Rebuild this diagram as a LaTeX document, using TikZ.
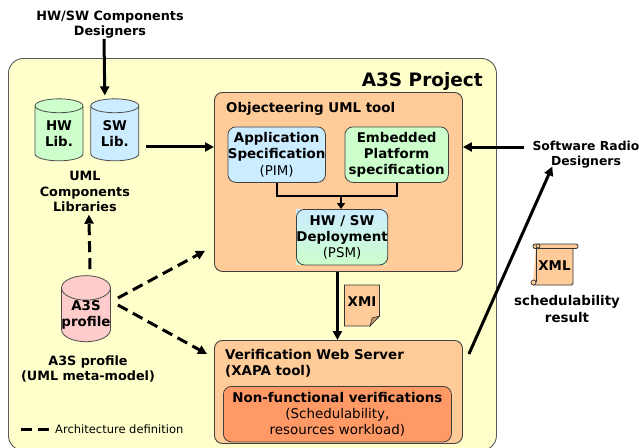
\documentclass[tikz,border=0pt]{standalone}
\usepackage{fontspec}
\setmainfont{DejaVu Sans}
\usetikzlibrary{positioning,arrows.meta,shapes.geometric}
\definecolor{prjyellow}{HTML}{FFFFCC}
\definecolor{tanbox}{HTML}{FFCC99}
\definecolor{bluebox}{HTML}{CCECFF}
\definecolor{greenbox}{HTML}{CCFFCC}
\definecolor{pinkbox}{HTML}{FFCCCC}
\definecolor{orangebox}{HTML}{FF9966}
\definecolor{foldbox}{HTML}{CC9966}
\tikzstyle{btext}=[font=\fontsize{13.4}{16.2}\selectfont\bfseries, align=center, inner sep=0pt]
\tikzstyle{otext}=[btext, font=\fontsize{12.8}{15.2}\selectfont\bfseries]
\tikzstyle{rtext}=[font=\fontsize{11.5}{15}\selectfont, align=left, inner sep=0pt]
\tikzstyle{prjbox}=[rectangle, rounded corners=15pt, draw=black!65, fill=prjyellow, line width=0.9pt]
\tikzstyle{toolbox}=[rectangle, rounded corners=8pt, draw=black!75, fill=tanbox, line width=0.9pt, minimum width=248pt, inner sep=0pt]
\tikzstyle{subbox}=[btext, rectangle, rounded corners=8pt, draw=black!75, line width=0.8pt, minimum height=55.5pt]
\tikzstyle{libcyl}=[btext, cylinder, shape border rotate=90, aspect=0.5, draw=black!70, line width=0.8pt, minimum width=48pt, minimum height=62pt]
\tikzstyle{pline}=[line width=2.2pt]
\tikzstyle{parrow}=[line width=3pt, -{Triangle[length=9pt,width=9pt]}]
\tikzstyle{darrow}=[line width=3pt, dash pattern=on 11pt off 6pt, -{Triangle[length=9pt,width=9pt]}]
\begin{document}
\begin{tikzpicture}[x=1pt,y=-1pt,node distance=0mm]
\useasboundingbox (0,0) rectangle (639,447);

\node (PRJ) [prjbox, minimum width=488pt, minimum height=392pt, anchor=north west] at (8,58) {};
\node (PRJTITLE) [btext, font=\fontsize{18.5}{20}\selectfont\bfseries, anchor=east] at (483,81) {A3S Project};

\node (COMPDES) [otext] at (110,25) {HW/SW Components\\Designers};
\node (HWLIB) [libcyl, fill=greenbox] at (59,133.5) {HW\\Lib.};
\node (SWLIB) [libcyl, fill=bluebox, right=7pt of HWLIB] {SW\\Lib.};
\node (LIBTXT) [otext, below=15pt of HWLIB.south east, xshift=3pt] {UML\\Components\\Libraries};
\node (PROFILE) [libcyl, fill=pinkbox] at (86,315) {A3S\\profile};
\node (PROFTXT) [otext] at (88,369) {A3S profile\\(UML meta-model)};

\node (OBJTOOL) [toolbox, minimum height=179pt, anchor=north west] at (214,92) {};
\node (OBJTXT) [btext, anchor=west] at (226,109) {Objecteering UML tool};
\node (APPSPEC) [subbox, fill=bluebox, minimum width=96.5pt, anchor=north west] at (227.5,126.5) {Application\\Specification\\{\mdseries (PIM)}};
\node (PLATFORM) [subbox, fill=greenbox, minimum width=103.5pt, anchor=north west] at (344.5,126.5) {Embedded\\Platform\\specification};
\fill[top color=bluebox, bottom color=greenbox] (296,209) rectangle (386,264.5);
\node (DEPLOY) [subbox, top color=bluebox, bottom color=greenbox, minimum width=90pt, anchor=north west] at (296,209) {HW / SW\\Deployment\\{\mdseries (PSM)}};
\coordinate (JOIN) at (341,196);

\node (VERIF) [toolbox, minimum height=103pt, anchor=north west] at (214,340) {};
\node (VERTXT) [btext, align=left, anchor=north west] at (225,349) {Verification Web Server\\(XAPA tool)};
\node (NONFUNC) [subbox, fill=orangebox, minimum width=228pt, anchor=north west] at (223,386) {Non-functional verifications\\{\mdseries (Schedulability,}\\{\mdseries resources workload)}};

\node (RADIO) [otext, font=\fontsize{12.4}{15.6}\selectfont\bfseries] at (586,154.5) {Software Radio\\Designers};
\node (SCHEDTXT) [btext] at (567,309) {schedulability\\result};

\draw[draw=black!80, fill=tanbox, line width=0.8pt] (344.5,285) -- (379.5,285) -- (379.5,316) -- (370,326) -- (344.5,326) -- cycle;
\draw[draw=black!80, fill=foldbox, line width=0.6pt] (379.5,316) -- (372,318) -- (370,326) -- cycle;
\node (XMI) [btext] at (362,302) {XMI};

\draw[draw=black!80, fill=tanbox, line width=0.8pt, rounded corners=1.5pt] (536,246) -- (573,246) -- (573,285) -- (533,285);
\draw[draw=black!80, fill=tanbox, line width=0.8pt, rounded corners=2pt] (533,244) rectangle (578,248.5);
\draw[draw=black!80, fill=tanbox, line width=0.8pt] (536,246) -- (536,282);
\draw[draw=black!80, fill=tanbox, line width=0.7pt] (533.5,282.5) circle (2.5);
\draw[draw=black!80, fill=tanbox, line width=0.7pt] (538,246) circle (2);
\node (XML) [btext] at (554.5,266) {XML};

\node (LEGEND) [rtext, anchor=west] at (55,429.5) {Architecture definition};
\coordinate (LEGSTART) at (21,429.5);

\draw[parrow] ([xshift=-6pt]COMPDES.south) -- ([xshift=-10pt,yshift=3pt]SWLIB.north);
\draw[parrow] ([yshift=-13.5pt,xshift=7pt]SWLIB.east) -- ([yshift=-13.5pt]SWLIB.east -| OBJTOOL.west);
\draw[parrow, shorten <=8pt] ([yshift=7.5pt]RADIO.west) -- ([yshift=7.5pt]RADIO.west -| OBJTOOL.east);
\draw[pline] (APPSPEC.south) |- (JOIN) -| (PLATFORM.south);
\draw[line width=2.2pt, -{Triangle[length=6pt,width=8pt]}] (JOIN) -- (JOIN |- DEPLOY.north);
\draw[parrow] ([xshift=-1pt]OBJTOOL.south) -- ([xshift=-1pt]VERIF.north);
\draw[parrow] ([xshift=6pt,yshift=-14pt]VERIF.north east) -- ([xshift=20pt,yshift=2pt]RADIO.south west);
\draw[darrow] ([xshift=4pt,yshift=6pt]PROFILE.north) -- ([xshift=4pt,yshift=-3pt]LIBTXT.south);
\draw[darrow] ([xshift=7pt,yshift=17pt]PROFILE.east) -- ([xshift=-9pt,yshift=21pt]OBJTOOL.south west);
\draw[darrow] ([xshift=7pt,yshift=10pt]PROFILE.east) -- ([xshift=-7pt,yshift=-14pt]VERIF.north west);
\draw[line width=3pt, dash pattern=on 11pt off 6pt, shorten >=5pt] (LEGSTART) -- (LEGEND.west);
\end{tikzpicture}
\end{document}
